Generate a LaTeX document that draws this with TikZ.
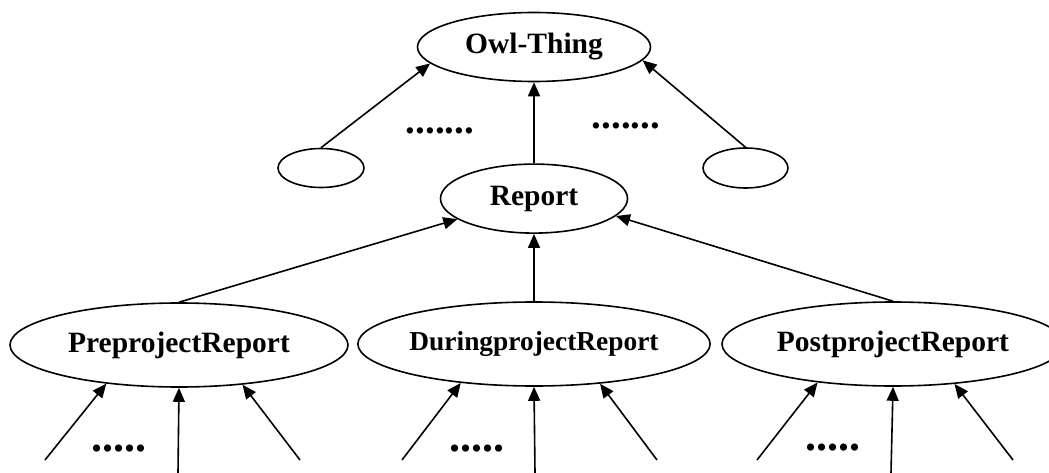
\documentclass[tikz,border=0pt]{standalone}
\usepackage{fontspec}
\setmainfont{Liberation Serif}
\usetikzlibrary{shapes.geometric,arrows.meta,positioning}

\begin{document}
\begin{tikzpicture}[
    x=1pt, y=-1pt,
    line width=1.6pt,
    class/.style={ellipse, draw, inner sep=0pt, font=\fontsize{29.5}{30}\selectfont\bfseries},
    isa/.style={-{Triangle[length=14pt,width=12pt]}},
    dots/.style={anchor=base, inner sep=0pt, font=\fontsize{39}{40}\selectfont\bfseries}
]
\useasboundingbox (0,0) rectangle (1049,473);

% Top of the hierarchy
\node[class, minimum width=233pt, minimum height=69pt] (owl) at (534,47) {Owl-Thing};
\node[class, minimum width=187pt, minimum height=69pt, below=81pt of owl] (report) {Report};

% Other subclasses of Owl-Thing
\node[class, minimum width=86pt, minimum height=39pt] (otherl) at (321,168) {};
\node[class, minimum width=85pt, minimum height=40pt] (otherr) at (745.5,168) {};

\node[dots] (dotsl) at (440,133.5) {.......};
\node[dots] (dotsr) at (626,129) {.......};

% Report subclasses
\node[class, minimum width=338pt, minimum height=84pt] (pre) at (179,345) {PreprojectReport};
\node[class, minimum width=337pt, minimum height=84pt, font=\fontsize{27.4}{28}\selectfont\bfseries] (during) at (534,344) {DuringprojectReport};
\node[class, minimum width=342pt, minimum height=84pt] (post) at (893,344) {PostprojectReport};

% Free ends of the lowest arrows
\coordinate (pre1) at (45,460);
\coordinate (pre2) at (178,473);
\coordinate (pre3) at (300,460);
\coordinate (dur1) at (402,460);
\coordinate (dur2) at (535,473);
\coordinate (dur3) at (657,460);
\coordinate (post1) at (757,460);
\coordinate (post2) at (891,473);
\coordinate (post3) at (1013,460);

\node[dots, font=\fontsize{44}{45}\selectfont\bfseries] (dotspre) at (119,451) {.....};
\node[dots, font=\fontsize{44}{45}\selectfont\bfseries] (dotsdur) at (477,451) {.....};
\node[dots, font=\fontsize{44}{45}\selectfont\bfseries] (dotspost) at (833,450) {.....};

% Connect lines
\draw[isa] (otherl.north) -- (owl.189);
\draw[isa] (otherr.north) -- (owl.353);
\draw[isa] (report.north) -- (owl.south);

\draw[isa] (pre.north) -- (report.195);
\draw[isa] (during.north) -- (report.south);
\draw[isa] (post.north) -- (report.348);

\draw[isa] (pre1) -- (pre.208);
\draw[isa] (pre2) -- (pre.south);
\draw[isa] (pre3) -- (pre.328);
\draw[isa] (dur1) -- (during.208);
\draw[isa] (dur2) -- (during.south);
\draw[isa] (dur3) -- (during.329);
\draw[isa] (post1) -- (post.207);
\draw[isa] (post2) -- (post.south);
\draw[isa] (post3) -- (post.327);

\end{tikzpicture}
\end{document}
